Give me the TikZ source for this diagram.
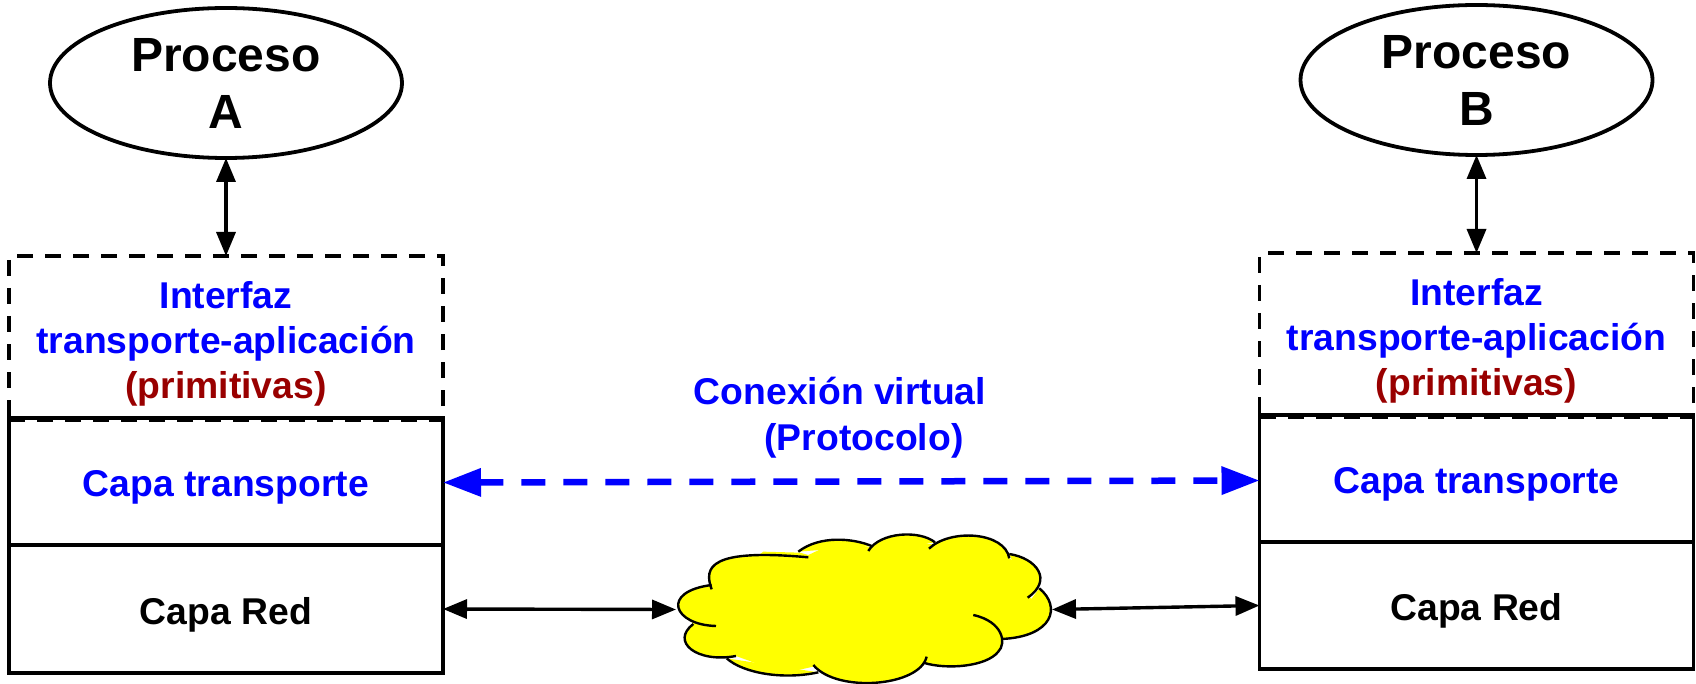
\documentclass[tikz,border=0pt]{standalone}
\usepackage{fontspec}
\setmainfont{Liberation Sans}
\usetikzlibrary{arrows.meta,shapes.geometric}
\definecolor{dkred}{rgb}{0.6,0,0}
\definecolor{pureblue}{rgb}{0,0,1}
\definecolor{cloudy}{rgb}{1,1,0}
\tikzset{
  lw/.style={line width=3.8pt},
  proc/.style={ellipse,draw,lw,minimum width=352pt,minimum height=150pt,inner sep=0pt,outer sep=0pt,align=center,font=\fontsize{48}{57}\selectfont\bfseries},
  dbox/.style={rectangle,draw,lw,dash pattern=on 16pt off 12pt,minimum width=434pt,minimum height=164pt,inner sep=0pt,outer sep=0pt},
  lbox/.style={rectangle,draw,lw,minimum width=434pt,inner sep=0pt,outer sep=0pt,text height=30pt,text depth=0pt,font=\fontsize{37.3}{44}\selectfont\bfseries},
  iface/.style={align=center,text=pureblue,inner sep=0pt,font=\fontsize{37.3}{45}\selectfont\bfseries},
  barrow/.style={line width=3.4pt,{Triangle[length=24pt,width=19pt]}-{Triangle[length=24pt,width=19pt]},shorten <=0pt,shorten >=0pt},
  varrow/.style={pureblue,line width=6.5pt,dash pattern=on 24pt off 18pt,{Triangle[length=38pt,width=27pt]}-{Triangle[length=38pt,width=27pt]}},
}
\begin{document}
\begin{tikzpicture}[x=1pt,y=-1pt]
\useasboundingbox (0,0) rectangle (1696,684);
% process ellipses
\node[proc] (pa) at (226,83) {Proceso\\A};
\node[proc] (pb) at (1476.5,80) {Proceso\\B};
% interface boxes
\node[dbox] (ia) at (226,338) {};
\node[dbox] (ib) at (1476.5,335) {};
\node[iface] (ta) at (226,344) {Interfaz\\transporte-aplicación\\\textcolor{dkred}{(primitivas)}};
\node[iface] (tb) at (1476.5,341) {Interfaz\\transporte-aplicación\\\textcolor{dkred}{(primitivas)}};
% layer boxes
\node[lbox,minimum height=127pt,text=pureblue] (ca) at (226,481.5) {Capa transporte};
\node[lbox,minimum height=128pt] (ra) at (226,609) {Capa Red};
\node[lbox,minimum height=127pt,text=pureblue] (cb) at (1476.5,478.5) {Capa transporte};
\node[lbox,minimum height=127pt] (rb) at (1476.5,605.5) {Capa Red};
% cloud
\node[rectangle,inner sep=0pt,outer sep=0pt,minimum width=376pt,minimum height=149pt] (cloud) at (864,609.5) {};
\begin{scope}[shift={(640,510)},x=0.3333pt,y=-0.3333pt]
  \fill[cloudy] (215,238) -- (370,125) -- (480,128) -- (505,135) -- (590,95) -- (695,112) -- (790,85) -- (885,105) -- (985,85) -- (1108,145) -- (1190,200) -- (1170,263) -- (1225,300) -- (1085,385) -- (1075,425) -- (1040,452) -- (935,460) -- (850,458) -- (690,515) -- (520,470) -- (430,490) -- (288,438) -- (140,385) -- (160,342) -- (115,290) -- cycle;
  \def\cloudarcs{
    215/238/190/170/210/115/505/142,
    475/125/540/75/640/85/695/108,
    685/123/720/65/840/60/885/97,
    867/116/930/55/1095/65/1108/145,
    1108/132/1190/145/1240/210/1163/263,
    1198/235/1265/290/1240/380/1085/387,
    1000/315/1090/335/1100/400/1075/425,
    1075/425/1040/470/920/480/850/458,
    860/440/840/530/590/550/520/465,
    535/487/430/510/310/490/260/445,
    288/438/170/460/90/395/160/342,
    228/348/100/345/60/245/215/225}
  \foreach \a/\b/\c/\d/\e/\f/\g/\h in \cloudarcs {
    \fill[cloudy] (\a,\b) .. controls (\c,\d) and (\e,\f) .. (\g,\h);
  }
  \foreach \a/\b/\c/\d/\e/\f/\g/\h in \cloudarcs {
    \draw[line width=2.4pt,line cap=butt] (\a,\b) .. controls (\c,\d) and (\e,\f) .. (\g,\h);
  }
\end{scope}
% connectors
\draw[barrow] (pa.south) -- (ia.north);
\draw[barrow] (pb.south) -- (ib.north);
\draw[barrow] (ra.east) -- (cloud.west);
\draw[barrow] (cloud.east) -- (rb.west);
\draw[varrow] ([yshift=-1pt]ca.east) -- ([yshift=-2pt]cb.west);
% label
\node[align=center,text=pureblue,inner sep=0pt,font=\fontsize{37.3}{46}\selectfont\bfseries] (lbl) at (840,418) {Conexión virtual\\\hspace*{48pt}(Protocolo)};
\end{tikzpicture}
\end{document}
